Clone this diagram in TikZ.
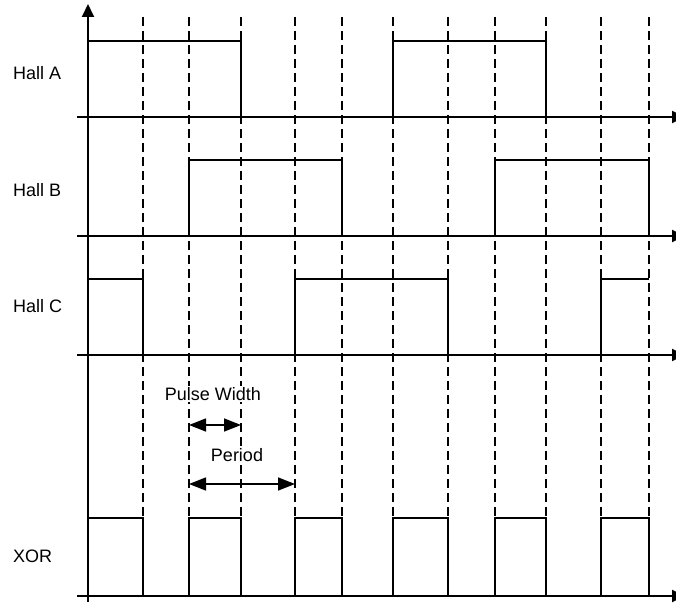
\documentclass[tikz,border=0pt]{standalone}
\usepackage{fontspec}
\setmainfont{Liberation Sans}
\usetikzlibrary{arrows.meta}

\begin{document}
\begin{tikzpicture}[x=1pt, y=-1pt,
  every node/.style={font=\fontsize{18}{20}\selectfont, inner sep=1pt},
  axis/.style={line width=1.9pt, -{Triangle[length=13pt, width=12pt]}},
  wave/.style={line width=1.9pt},
  mark line/.style={line width=1.3pt, dash pattern=on 9pt off 5pt},
  span/.style={line width=1.5pt, {Triangle[length=17pt, width=13pt]}-{Triangle[length=17pt, width=13pt]}}]
  \useasboundingbox (0,0) rectangle (676,602);
  % --- dashed time marks -------------------------------------------
  \foreach \t in {143,189,241,295,342,393,448,495,546,601,649}
    \draw[mark line] (\t,17) -- (\t,518);
  % --- axes ----------------------------------------------------------
  \draw[axis] (88,602) -- (88,4);
  \foreach \b in {117,236,355,596}
    \draw[axis] (77,\b) -- (685,\b);
  % --- Hall A --------------------------------------------------------
  \node[anchor=west] (hallA) at (12,73) {Hall A};
  \draw[wave] (88,117) -- (88,41) -- (241,41) -- (241,117);
  \draw[wave] (393,117) -- (393,41) -- (546,41) -- (546,117);
  % --- Hall B --------------------------------------------------------
  \node[anchor=west] (hallB) at (12,190) {Hall B};
  \draw[wave] (189,236) -- (189,160) -- (342,160) -- (342,236);
  \draw[wave] (495,236) -- (495,160) -- (649,160) -- (649,236);
  % --- Hall C --------------------------------------------------------
  \node[anchor=west] (hallC) at (12,306) {Hall C};
  \draw[wave] (88,279) -- (143,279) -- (143,355);
  \draw[wave] (295,355) -- (295,279) -- (448,279) -- (448,355);
  \draw[wave] (601,355) -- (601,279) -- (649,279);
  % --- XOR -----------------------------------------------------------
  \node[anchor=west] (xor) at (12,556) {XOR};
  \draw[wave] (88,518) -- (143,518) -- (143,596);
  \foreach \a/\e in {189/241,295/342,393/448,495/546,601/649}
    \draw[wave] (\a,596) -- (\a,518) -- (\e,518) -- (\e,596);
  % --- pulse width and period -----------------------------------------
  \node[fill=white] (pw) at (213,394) {Pulse Width};
  \draw[span] (189,425) -- (241,425);
  \node[fill=white] (per) at (237,455) {Period};
  \draw[span] (189,484) -- (295,484);
\end{tikzpicture}
\end{document}
